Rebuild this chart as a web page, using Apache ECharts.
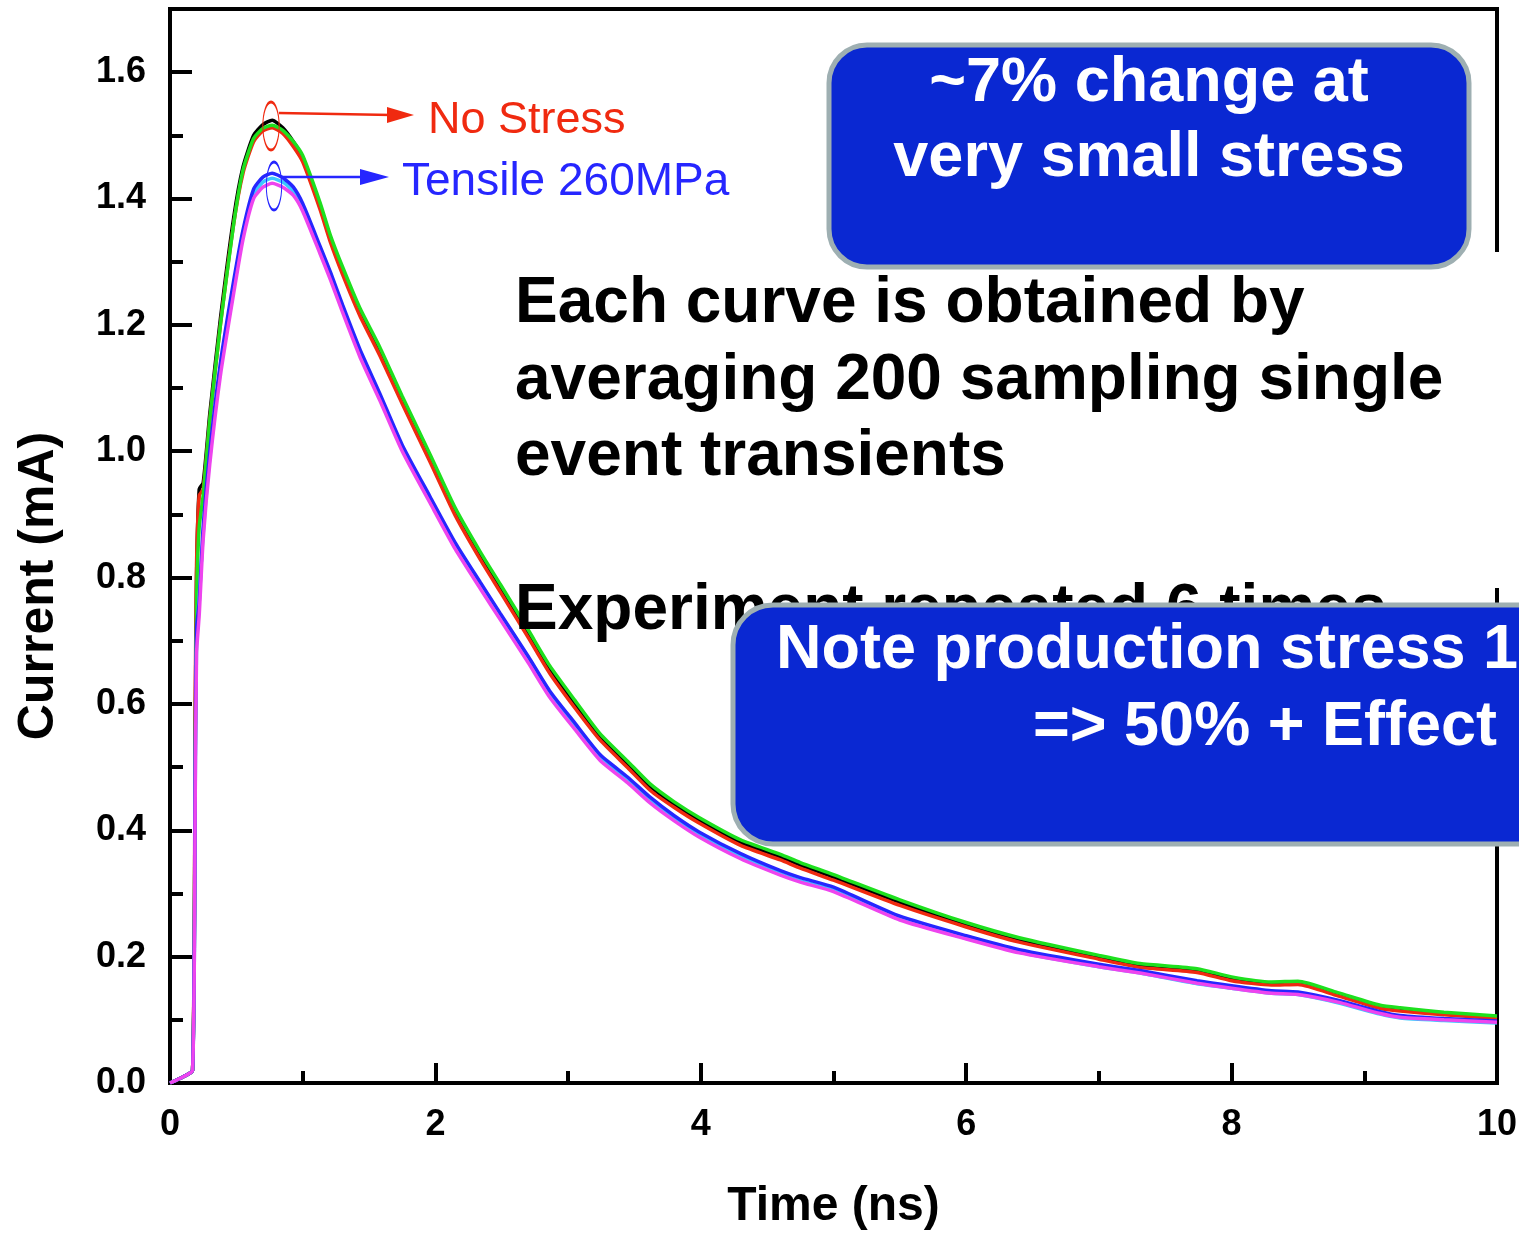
<!DOCTYPE html>
<html>
<head>
    <meta charset="utf-8">
    <title>Single event transient current</title>
    <script src="https://cdn.jsdelivr.net/npm/echarts@6/dist/echarts.min.js"></script>
    <style>
        html, body { margin: 0; padding: 0; background: #fff; }
        #main { width: 1519px; height: 1233px; }
    </style>
</head>
<body>
    <div id="main"></div>
    <script>
        // time axis (ns) shared by all six averaged transients
        var time = [0, 0.1, 0.17, 0.19, 0.2, 0.22, 0.25, 0.3, 0.38, 0.48, 0.55, 0.63, 0.7, 0.77, 0.85,
            0.93, 1.0, 1.13, 1.21, 1.3, 1.43, 1.58, 1.75, 1.96, 2.15, 2.34, 2.49, 2.7, 2.86, 3.05,
            3.24, 3.45, 3.62, 3.8, 3.99, 4.3, 4.6, 4.75, 5.0, 5.5, 6.0, 6.4, 7.0, 7.31, 7.74,
            8.0, 8.3, 8.5, 8.8, 9.12, 9.27, 9.6, 10];

        // no stress runs (mA)
        var blackRun = [0.00, 0.01, 0.02, 0.55, 0.80, 0.94, 0.95, 1.06, 1.21, 1.37, 1.45, 1.50, 1.517, 1.524, 1.512,
            1.49, 1.465, 1.39, 1.337, 1.287, 1.222, 1.16, 1.082, 0.99, 0.905, 0.835, 0.784, 0.712, 0.656, 0.601,
            0.549, 0.505, 0.469, 0.441, 0.416, 0.381, 0.358, 0.345, 0.326, 0.286, 0.251, 0.227, 0.199, 0.186, 0.179,
            0.166, 0.158, 0.159, 0.141, 0.121, 0.117, 0.11, 0.104];
        var redRun = [0.00, 0.01, 0.02, 0.6, 0.82, 0.93, 0.94, 1.05, 1.20, 1.36, 1.44, 1.49, 1.507, 1.512, 1.503,
            1.482, 1.458, 1.383, 1.33, 1.28, 1.215, 1.152, 1.075, 0.983, 0.898, 0.828, 0.777, 0.705, 0.649, 0.594,
            0.543, 0.499, 0.463, 0.436, 0.411, 0.376, 0.353, 0.340, 0.321, 0.281, 0.247, 0.223, 0.196, 0.183, 0.175,
            0.162, 0.155, 0.156, 0.138, 0.118, 0.114, 0.108, 0.102];
        var greenRun = [0.00, 0.01, 0.02, 0.52, 0.76, 0.88, 0.93, 1.05, 1.20, 1.36, 1.445, 1.495, 1.511, 1.516, 1.508,
            1.49, 1.468, 1.394, 1.341, 1.292, 1.227, 1.165, 1.087, 0.995, 0.91, 0.840, 0.789, 0.717, 0.661, 0.606,
            0.553, 0.509, 0.473, 0.445, 0.42, 0.385, 0.362, 0.349, 0.33, 0.29, 0.254, 0.23, 0.202, 0.189, 0.181,
            0.168, 0.16, 0.161, 0.143, 0.123, 0.119, 0.112, 0.106];

        // tensile 260MPa runs (mA)
        var blueRun = [0.00, 0.01, 0.02, 0.5, 0.72, 0.76, 0.88, 1.0, 1.14, 1.27, 1.35, 1.415, 1.434, 1.44, 1.433,
            1.418, 1.392, 1.325, 1.283, 1.232, 1.162, 1.092, 1.01, 0.928, 0.855, 0.792, 0.743, 0.675, 0.621, 0.57,
            0.52, 0.484, 0.452, 0.423, 0.397, 0.363, 0.336, 0.325, 0.31, 0.264, 0.233, 0.211, 0.188, 0.178, 0.162,
            0.154, 0.146, 0.144, 0.131, 0.113, 0.107, 0.102, 0.098];
        var cyanRun = [0.00, 0.01, 0.02, 0.46, 0.7, 0.77, 0.87, 0.99, 1.13, 1.26, 1.343, 1.407, 1.426, 1.432, 1.426,
            1.411, 1.386, 1.319, 1.277, 1.226, 1.156, 1.087, 1.005, 0.922, 0.849, 0.786, 0.737, 0.669, 0.615, 0.564,
            0.515, 0.479, 0.447, 0.418, 0.392, 0.358, 0.331, 0.320, 0.305, 0.259, 0.229, 0.207, 0.184, 0.174, 0.157,
            0.15, 0.142, 0.14, 0.127, 0.109, 0.103, 0.099, 0.095];
        var magentaRun = [0.00, 0.01, 0.02, 0.45, 0.68, 0.74, 0.86, 0.98, 1.12, 1.25, 1.335, 1.40, 1.418, 1.424, 1.418,
            1.405, 1.38, 1.313, 1.271, 1.22, 1.15, 1.081, 1.0, 0.918, 0.845, 0.782, 0.733, 0.665, 0.611, 0.56,
            0.511, 0.475, 0.443, 0.415, 0.389, 0.355, 0.329, 0.318, 0.303, 0.258, 0.228, 0.206, 0.184, 0.174, 0.158,
            0.15, 0.142, 0.14, 0.128, 0.11, 0.104, 0.1, 0.096];

        var runs = [
            { name: 'black', color: '#000000', values: blackRun },
            { name: 'red', color: '#f02a10', values: redRun },
            { name: 'green', color: '#1ee01e', values: greenRun },
            { name: 'cyan', color: '#3cc8ff', values: cyanRun },
            { name: 'blue', color: '#2626ff', values: blueRun },
            { name: 'magenta', color: '#ee44ee', values: magentaRun }
        ];

        var FONT = '"Liberation Sans", Arial, sans-serif';
        var boxBlue = '#0a28d2';
        var boxEdge = '#9eafb2';

        var myChart = echarts.init(document.getElementById('main'));

        var option = {
            backgroundColor: '#fff',
            animation: false,
            grid: {
                left: 170, right: 22, top: 9, bottom: 150,
                outerBoundsMode: 'none',
                show: true, borderColor: '#000', borderWidth: 4
            },
            xAxis: {
                type: 'value', min: 0, max: 10, interval: 2,
                name: 'Time (ns)', nameLocation: 'middle', nameGap: 100,
                nameTextStyle: { fontFamily: FONT, fontWeight: 'bold', fontSize: 48, color: '#000' },
                axisLine: { lineStyle: { color: '#000', width: 4 } },
                axisTick: { inside: true, length: 20, lineStyle: { color: '#000', width: 4 } },
                minorTick: { show: true, splitNumber: 2, length: 12, lineStyle: { color: '#000', width: 4 } },
                splitLine: { show: false },
                axisLabel: { fontFamily: FONT, fontWeight: 'bold', fontSize: 36, color: '#000', margin: 24 }
            },
            yAxis: [{
                type: 'value', min: 0, max: 1.7, interval: 0.2,
                name: 'Current (mA)', nameLocation: 'middle', nameGap: 106,
                nameTextStyle: {
                    fontFamily: FONT, fontWeight: 'bold', fontSize: 50, color: '#000',
                    padding: [0, 80, 0, 0]
                },
                axisLine: { lineStyle: { color: '#000', width: 4 } },
                axisTick: { inside: true, length: 22, lineStyle: { color: '#000', width: 4 } },
                splitLine: { show: false },
                axisLabel: {
                    fontFamily: FONT, fontWeight: 'bold', fontSize: 36, color: '#000', margin: 24,
                    showMaxLabel: false,
                    formatter: function (v) { return v.toFixed(1); }
                }
            }, {
                // minor ticks every 0.1
                type: 'value', min: 0, max: 1.7, interval: 0.1, position: 'left',
                axisLine: { show: false },
                axisTick: { inside: true, length: 13, lineStyle: { color: '#000', width: 4 } },
                axisLabel: { show: false },
                splitLine: { show: false }
            }],
            series: runs.map(function (r) {
                return {
                    name: r.name,
                    type: 'line',
                    showSymbol: false,
                    smooth: 0.2,
                    data: time.map(function (t, i) { return [t, r.values[i]]; }),
                    lineStyle: { color: r.color, width: 3.5 },
                    itemStyle: { color: r.color }
                };
            }),
            graphic: [
                // peak markers and labels
                { type: 'circle', x: 271, y: 126, scaleX: 0.34, shape: { cx: 0, cy: 0, r: 24 },
                  style: { fill: 'none', stroke: '#f02a10', lineWidth: 3, strokeNoScale: true }, z: 20 },
                { type: 'line', shape: { x1: 279, y1: 113, x2: 392, y2: 115 },
                  style: { stroke: '#f02a10', lineWidth: 2.5 }, z: 20 },
                { type: 'polygon', shape: { points: [[387, 107], [414, 115], [387, 123]] },
                  style: { fill: '#f02a10' }, z: 20 },
                { type: 'text', x: 428, y: 121, z: 20,
                  style: { text: 'No Stress', fill: '#f02a10', font: '45px ' + FONT, textVerticalAlign: 'middle' } },

                { type: 'circle', x: 274, y: 186, scaleX: 0.32, shape: { cx: 0, cy: 0, r: 24 },
                  style: { fill: 'none', stroke: '#2626ff', lineWidth: 3, strokeNoScale: true }, z: 20 },
                { type: 'line', shape: { x1: 281, y1: 177, x2: 365, y2: 177 },
                  style: { stroke: '#2626ff', lineWidth: 2.5 }, z: 20 },
                { type: 'polygon', shape: { points: [[360, 169], [389, 177], [360, 185]] },
                  style: { fill: '#2626ff' }, z: 20 },
                { type: 'text', x: 402, y: 182, z: 20,
                  style: { text: 'Tensile 260MPa', fill: '#2626ff', font: '46px ' + FONT, textVerticalAlign: 'middle' } },

                // white text panel
                { type: 'rect', shape: { x: 505, y: 252, width: 1010, height: 336 },
                  style: { fill: '#fff' }, z: 30 },
                { type: 'text', x: 515, y: 304, z: 31,
                  style: { text: 'Each curve is obtained by', fill: '#000', font: 'bold 64px ' + FONT, textVerticalAlign: 'middle' } },
                { type: 'text', x: 515, y: 381, z: 31,
                  style: { text: 'averaging 200 sampling single', fill: '#000', font: 'bold 64px ' + FONT, textVerticalAlign: 'middle' } },
                { type: 'text', x: 515, y: 457, z: 31,
                  style: { text: 'event transients', fill: '#000', font: 'bold 64px ' + FONT, textVerticalAlign: 'middle' } },
                { type: 'text', x: 515, y: 611, z: 31,
                  style: { text: 'Experiment repeated 6 times', fill: '#000', font: 'bold 64px ' + FONT, textVerticalAlign: 'middle' } },

                // blue callouts
                { type: 'rect', shape: { x: 829, y: 45, width: 640, height: 222, r: 38 },
                  style: { fill: boxBlue, stroke: boxEdge, lineWidth: 5 }, z: 40 },
                { type: 'text', x: 1149, y: 84, z: 41,
                  style: { text: '~7% change at', fill: '#fff', font: 'bold 63px ' + FONT, textAlign: 'center', textVerticalAlign: 'middle' } },
                { type: 'text', x: 1149, y: 159, z: 41,
                  style: { text: 'very small stress', fill: '#fff', font: 'bold 63px ' + FONT, textAlign: 'center', textVerticalAlign: 'middle' } },

                { type: 'rect', shape: { x: 733, y: 605, width: 840, height: 239, r: 40 },
                  style: { fill: boxBlue, stroke: boxEdge, lineWidth: 5 }, z: 40 },
                { type: 'text', x: 776, y: 651, z: 41,
                  style: { text: 'Note production stress 1', fill: '#fff', font: 'bold 63px ' + FONT, textVerticalAlign: 'middle' } },
                { type: 'text', x: 1497, y: 728, z: 41,
                  style: { text: '=> 50% + Effect', fill: '#fff', font: 'bold 63px ' + FONT, textAlign: 'right', textVerticalAlign: 'middle' } }
            ]
        };

        myChart.setOption(option);
    </script>
</body>
</html>
